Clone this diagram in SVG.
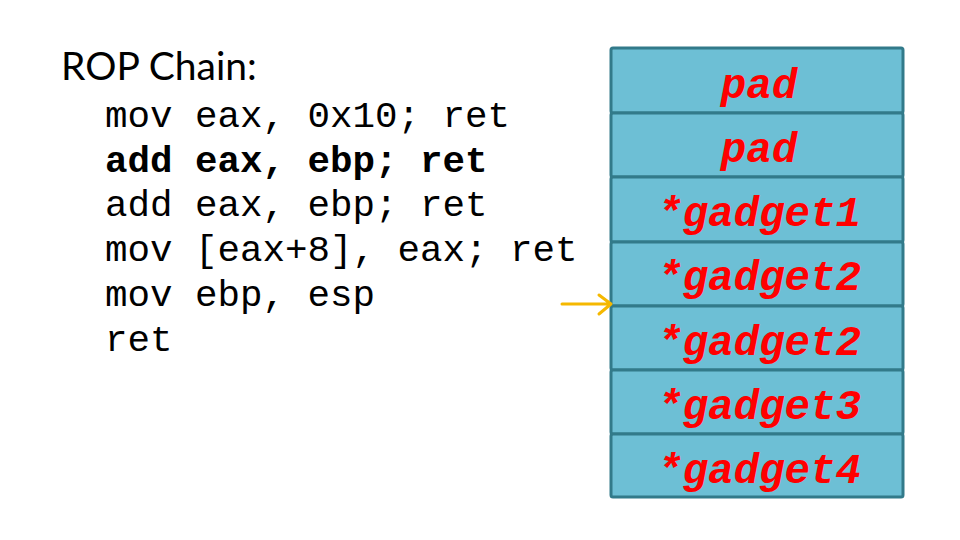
<svg xmlns="http://www.w3.org/2000/svg" width="960" height="540" viewBox="0 0 960 540">
<style>
.title{font-family:Lato,"Open Sans",sans-serif;font-size:39px;fill:#000}
.code{font-family:"Liberation Mono","Courier New",monospace;font-size:37.5px;fill:#000}
.b{font-weight:bold}
.cell{fill:#6DBFD5;stroke:#327A8A;stroke-width:3}
.lbl{font-family:"Liberation Mono","Courier New",monospace;font-size:42.5px;font-weight:bold;font-style:italic;fill:#FF0000;text-anchor:middle}
.arr{fill:none;stroke:#F5B800;stroke-width:3;stroke-linecap:round;stroke-linejoin:round}
</style>
<rect width="960" height="540" fill="#fff"/>
<g id="code">
<text class="title" x="61" y="80">ROP Chain:</text>
<text class="code" x="105" y="127">mov eax, 0x10; ret</text>
<text class="code b" x="105" y="172">add eax, ebp; ret</text>
<text class="code" x="105" y="216">add eax, ebp; ret</text>
<text class="code" x="105" y="261">mov [eax+8], eax; ret</text>
<text class="code" x="105" y="306">mov ebp, esp</text>
<text class="code" x="105" y="351">ret</text>
</g>
<g id="cell1"><rect class="cell" x="611" y="48" width="292" height="65" rx="2"/><text class="lbl" x="759" y="98">pad</text></g>
<g id="cell2"><rect class="cell" x="611" y="113" width="292" height="64" rx="2"/><text class="lbl" x="759" y="162">pad</text></g>
<g id="cell3"><rect class="cell" x="611" y="177" width="292" height="65" rx="2"/><text class="lbl" x="759" y="226">*gadget1</text></g>
<g id="cell4"><rect class="cell" x="611" y="242" width="292" height="64" rx="2"/><text class="lbl" x="759" y="290">*gadget2</text></g>
<g id="cell5"><rect class="cell" x="611" y="306" width="292" height="64" rx="2"/><text class="lbl" x="759" y="355">*gadget2</text></g>
<g id="cell6"><rect class="cell" x="611" y="370" width="292" height="64" rx="2"/><text class="lbl" x="759" y="419">*gadget3</text></g>
<g id="cell7"><rect class="cell" x="611" y="434" width="292" height="63" rx="2"/><text class="lbl" x="759" y="483">*gadget4</text></g>
<g id="connectors">
<path class="arr" d="M562 304 H611 M599 295 L611 304 L599 314"/>
</g>
</svg>
